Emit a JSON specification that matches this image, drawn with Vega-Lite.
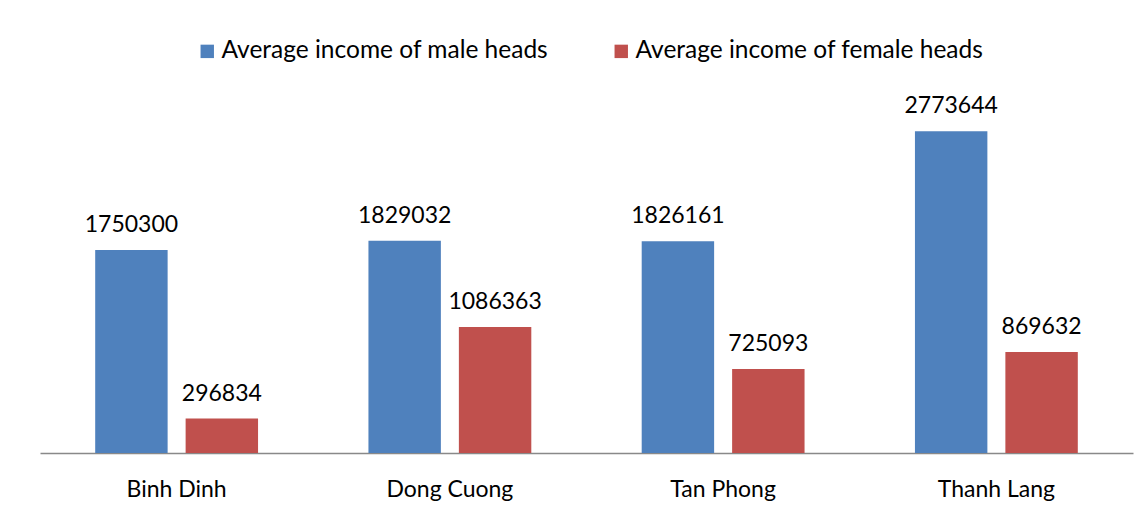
{
  "$schema": "https://vega.github.io/schema/vega-lite/v6.json",
  "width": 1093,
  "height": 348,
  "padding": {"left": 40, "top": 105, "right": 11, "bottom": 60},
  "autosize": {"type": "none"},
  "background": "white",
  "config": {
    "view": {"stroke": null},
    "font": "Lato",
    "text": {"font": "Lato"}
  },
  "data": {
    "values": [
      {"commune": "Binh Dinh", "series": "Average income of male heads", "value": 1750300},
      {"commune": "Binh Dinh", "series": "Average income of female heads", "value": 296834},
      {"commune": "Dong Cuong", "series": "Average income of male heads", "value": 1829032},
      {"commune": "Dong Cuong", "series": "Average income of female heads", "value": 1086363},
      {"commune": "Tan Phong", "series": "Average income of male heads", "value": 1826161},
      {"commune": "Tan Phong", "series": "Average income of female heads", "value": 725093},
      {"commune": "Thanh Lang", "series": "Average income of male heads", "value": 2773644},
      {"commune": "Thanh Lang", "series": "Average income of female heads", "value": 869632}
    ]
  },
  "encoding": {
    "x": {
      "field": "commune",
      "type": "nominal",
      "sort": null,
      "scale": {"paddingInner": 0.404, "paddingOuter": 0.202},
      "axis": {
        "title": null,
        "labelAngle": 0,
        "ticks": false,
        "labelFont": "Lato",
        "labelFontSize": 23,
        "labelColor": "#000000",
        "labelPadding": 43,
        "labelBaseline": "alphabetic",
        "domainColor": "#898989",
        "domainWidth": 1.5,
        "grid": false
      }
    },
    "xOffset": {
      "field": "series",
      "type": "nominal",
      "sort": ["Average income of male heads", "Average income of female heads"],
      "scale": {"paddingInner": 0.199, "paddingOuter": 0}
    },
    "y": {
      "field": "value",
      "type": "quantitative",
      "scale": {"domain": [0, 3000000], "nice": false},
      "axis": null
    }
  },
  "layer": [
    {
      "mark": {"type": "bar"},
      "encoding": {
        "color": {
          "field": "series",
          "type": "nominal",
          "sort": ["Average income of male heads", "Average income of female heads"],
          "scale": {"range": ["#4F81BD", "#C0504D"]},
          "legend": {
            "title": null,
            "orient": "none",
            "legendX": 155,
            "legendY": -66,
            "direction": "horizontal",
            "columns": 2,
            "columnPadding": 60,
            "padding": 0,
            "symbolType": "square",
            "symbolSize": 180,
            "symbolStrokeWidth": 0,
            "labelFont": "Lato",
            "labelFontSize": 24.5,
            "labelColor": "#000000",
            "labelOffset": 2,
            "labelLimit": 500
          }
        }
      }
    },
    {
      "mark": {"type": "text", "baseline": "alphabetic", "dy": -18, "fontSize": 23, "font": "Lato", "color": "#000000"},
      "encoding": {
        "text": {"field": "value", "type": "quantitative", "format": "d"}
      }
    }
  ]
}
